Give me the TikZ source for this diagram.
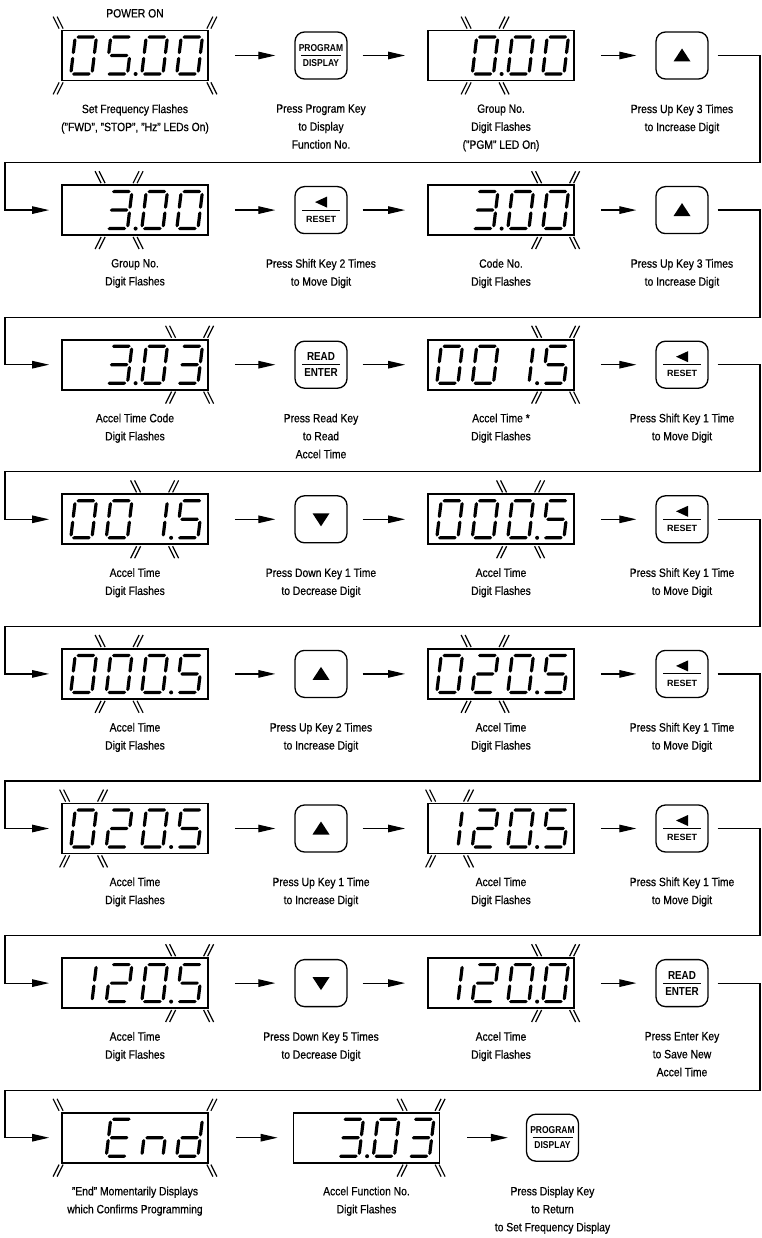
\documentclass[tikz,border=0pt]{standalone}
\usepackage{fontspec}
\setmainfont{Liberation Sans}[FakeStretch=0.86,FakeBold=0.6]
\newfontfamily\keyfont{Liberation Sans}[FakeStretch=0.85]
\newfontfamily\keyfontw{Liberation Sans}
\usetikzlibrary{arrows.meta}
\tikzset{
  dbox/.style={draw, line width=1.8pt, minimum width=146pt, minimum height=50pt, inner sep=0pt},
  kbox/.style={draw, line width=1.3pt, rounded corners=9.5pt, minimum width=52pt, minimum height=47pt, inner sep=0pt},
  lbl/.style={align=center, anchor=north, inner sep=0pt, font=\fontsize{12}{18}\selectfont},
  arw/.style={line width=1.2pt, -{Triangle[length=17pt,width=7.5pt]}},
  fl/.style={line width=1.2pt},
  kl/.style={line width=0.9pt},
  ktA/.style={inner sep=0pt, font=\keyfont\bfseries\fontsize{10}{10}\selectfont},
  ktB/.style={inner sep=0pt, font=\keyfont\bfseries\fontsize{11.6}{12}\selectfont},
  ktC/.style={inner sep=0pt, font=\keyfontw\bfseries\fontsize{9}{9}\selectfont},
  pics/bsl/.style={code={\draw[fl] (-5,6)--(1,-6); \draw[fl] (-1,6)--(5,-6);}},
  pics/fsl/.style={code={\draw[fl] (-5,-6)--(1,6); \draw[fl] (-1,-6)--(5,6);}},
}
% hexagonal segments
\newcommand\hs[3]{\fill (#1,#3) -- (#1+1.6,#3+1.6) -- (#2-1.6,#3+1.6) -- (#2,#3) -- (#2-1.6,#3-1.6) -- (#1+1.6,#3-1.6) -- cycle;}
\newcommand\vs[3]{\fill (#1,#2) -- (#1+1.6,#2-1.6) -- (#1+1.6,#3+1.6) -- (#1,#3) -- (#1-1.6,#3+1.6) -- (#1-1.6,#2-1.6) -- cycle;}
\pgfkeys{
 /segs/.cd,
 a/.code={\hs{-9.3}{9.3}{18.5}},
 d/.code={\hs{-9.3}{9.3}{-18.5}},
 g/.code={\hs{-9.3}{9.3}{0}},
 b/.code={\vs{10.6}{17.2}{1.3}},
 c/.code={\vs{10.6}{-1.3}{-17.2}},
 e/.code={\vs{-10.6}{-1.3}{-17.2}},
 f/.code={\vs{-10.6}{17.2}{1.3}},
}
\pgfkeys{
 /dch/.cd,
 0/.code={\pgfkeys{/segs/.cd,a,b,c,d,e,f}},
 1/.code={\pgfkeys{/segs/.cd,b,c}},
 2/.code={\pgfkeys{/segs/.cd,a,b,g,e,d}},
 3/.code={\pgfkeys{/segs/.cd,a,b,g,c,d}},
 5/.code={\pgfkeys{/segs/.cd,a,f,g,c,d}},
 E/.code={\pgfkeys{/segs/.cd,a,f,g,e,d}},
 n/.code={\pgfkeys{/segs/.cd,c,e,g}},
 d/.code={\pgfkeys{/segs/.cd,b,c,d,e,g}},
 x/.code={},
}
\newcommand\dg[3]{\begin{scope}[shift={(#1.west)},xshift=#2pt,xslant=0.12]\pgfkeys{/dch/#3}\end{scope}}
\newcommand\disp[7]{\node[dbox] (#1) at (#2,#3) {};%
  \dg{#1}{22.5}{#4}\dg{#1}{58}{#5}\dg{#1}{93.5}{#6}\dg{#1}{128.5}{#7}}
\newcommand\dpt[2]{\fill ([xshift=#2pt,yshift=-18.5pt]#1.west) circle (2pt);}
\newcommand\fd[2]{%
  \pic at ([xshift=#2pt-19pt,yshift=7pt]#1.north west) {bsl};
  \pic at ([xshift=#2pt+19pt,yshift=7pt]#1.north west) {fsl};
  \pic at ([xshift=#2pt-19pt,yshift=-7pt]#1.south west) {fsl};
  \pic at ([xshift=#2pt+19pt,yshift=-7pt]#1.south west) {bsl};}
\newcommand\fa[1]{%
  \pic at ([xshift=-3pt,yshift=7pt]#1.north west) {bsl};
  \pic at ([xshift=3pt,yshift=7pt]#1.north east) {fsl};
  \pic at ([xshift=-3pt,yshift=-7pt]#1.south west) {fsl};
  \pic at ([xshift=3pt,yshift=-7pt]#1.south east) {bsl};}
\newcommand\kprog[3]{\node[kbox] (#1) at (#2,#3) {};
  \draw[kl] ([xshift=-20pt]#1.center) -- ([xshift=20pt]#1.center);
  \node[ktA] (#1t) at ([yshift=7.5pt]#1.center) {PROGRAM};
  \node[ktA] (#1b) at ([yshift=-7.5pt]#1.center) {DISPLAY};}
\newcommand\kread[3]{\node[kbox] (#1) at (#2,#3) {};
  \draw[kl] ([xshift=-19pt]#1.center) -- ([xshift=19pt]#1.center);
  \node[ktB] (#1t) at ([yshift=8pt]#1.center) {READ};
  \node[ktB] (#1b) at ([yshift=-8pt]#1.center) {ENTER};}
\newcommand\kreset[3]{\node[kbox] (#1) at (#2,#3) {};
  \draw[kl] ([xshift=-19pt]#1.center) -- ([xshift=19pt]#1.center);
  \fill ([shift={(-6pt,8pt)}]#1.center) -- ([shift={(6pt,13.5pt)}]#1.center) -- ([shift={(6pt,2.5pt)}]#1.center) -- cycle;
  \node[ktC] (#1b) at ([yshift=-9pt]#1.center) {RESET};}
\newcommand\kup[3]{\node[kbox] (#1) at (#2,#3) {};
  \fill ([shift={(-8.5pt,-6pt)}]#1.center) -- ([shift={(8.5pt,-6pt)}]#1.center) -- ([shift={(0pt,7pt)}]#1.center) -- cycle;}
\newcommand\kdown[3]{\node[kbox] (#1) at (#2,#3) {};
  \fill ([shift={(-8.5pt,6pt)}]#1.center) -- ([shift={(8.5pt,6pt)}]#1.center) -- ([shift={(0pt,-7pt)}]#1.center) -- cycle;}
\newcommand\dk[2]{\draw[arw, shorten <=26pt, shorten >=19pt] (#1) -- (#2);}
\newcommand\kd[2]{\draw[arw, shorten <=15pt, shorten >=22pt] (#1) -- (#2);}
\newcommand\ret[5]{% from key, row y, line y, to display, index
  \coordinate (r#5) at (760,#2); \coordinate (s#5) at (5,#3);
  \draw[arw, shorten <=9pt, shorten >=12pt] (#1) -- (r#5) |- (s#5) |- (#4);}
\begin{document}
\begin{tikzpicture}[x=1pt,y=1pt]
\useasboundingbox (0,0) rectangle (762,-1238);
% Row 1
\node[inner sep=0pt, font=\fontsize{12}{12}\selectfont] (pw) at (135,-13.3) {POWER ON};
\disp{d1}{135}{-55.5}{0}{5}{0}{0}\dpt{d1}{74.5}\fa{d1}
\kprog{k1}{321}{-55.5}
\disp{d2}{501}{-55.5}{x}{0}{0}{0}\dpt{d2}{74.5}\fd{d2}{58}
\kup{k2}{682}{-55.5}
\node[lbl] (l1) at (135,-104.2) {Set Frequency Flashes\\("FWD", "STOP", "Hz" LEDs On)};
\node[lbl] (l2) at (321,-104.2) {Press Program Key\\to Display\\Function No.};
\node[lbl] (l3) at (501,-104.2) {Group No.\\Digit Flashes\\("PGM" LED On)};
\node[lbl] (l4) at (682,-104.2) {Press Up Key 3 Times\\to Increase Digit};
\dk{d1}{k1}\kd{k1}{d2}\dk{d2}{k2}
% Row 2
\disp{d3}{135}{-210.1}{x}{3}{0}{0}\dpt{d3}{74.5}\fd{d3}{58}
\kreset{k3}{321}{-210.1}
\disp{d4}{501}{-210.1}{x}{3}{0}{0}\dpt{d4}{74.5}\fd{d4}{128.5}
\kup{k4}{682}{-210.1}
\node[lbl] (l5) at (135,-258.8) {Group No.\\Digit Flashes};
\node[lbl] (l6) at (321,-258.8) {Press Shift Key 2 Times\\to Move Digit};
\node[lbl] (l7) at (501,-258.8) {Code No.\\Digit Flashes};
\node[lbl] (l8) at (682,-258.8) {Press Up Key 3 Times\\to Increase Digit};
\ret{k2}{-55.5}{-162.6}{d3}{1}
\dk{d3}{k3}\kd{k3}{d4}\dk{d4}{k4}
% Row 3
\disp{d5}{135}{-364.7}{x}{3}{0}{3}\dpt{d5}{74.5}\fd{d5}{128.5}
\kread{k5}{321}{-364.7}
\disp{d6}{501}{-364.7}{0}{0}{1}{5}\dpt{d6}{110}\fd{d6}{128.5}
\kreset{k6}{682}{-364.7}
\node[lbl] (l9) at (135,-413.4) {Accel Time Code\\Digit Flashes};
\node[lbl] (l10) at (321,-413.4) {Press Read Key\\to Read\\Accel Time};
\node[lbl] (l11) at (501,-413.4) {Accel Time *\\Digit Flashes};
\node[lbl] (l12) at (682,-413.4) {Press Shift Key 1 Time\\to Move Digit};
\ret{k4}{-210.1}{-317.2}{d5}{2}
\dk{d5}{k5}\kd{k5}{d6}\dk{d6}{k6}
% Row 4
\disp{d7}{135}{-519.3}{0}{0}{1}{5}\dpt{d7}{110}\fd{d7}{93.5}
\kdown{k7}{321}{-519.3}
\disp{d8}{501}{-519.3}{0}{0}{0}{5}\dpt{d8}{110}\fd{d8}{93.5}
\kreset{k8}{682}{-519.3}
\node[lbl] (l13) at (135,-568.0) {Accel Time\\Digit Flashes};
\node[lbl] (l14) at (321,-568.0) {Press Down Key 1 Time\\to Decrease Digit};
\node[lbl] (l15) at (501,-568.0) {Accel Time\\Digit Flashes};
\node[lbl] (l16) at (682,-568.0) {Press Shift Key 1 Time\\to Move Digit};
\ret{k6}{-364.7}{-471.8}{d7}{3}
\dk{d7}{k7}\kd{k7}{d8}\dk{d8}{k8}
% Row 5
\disp{d9}{135}{-673.9}{0}{0}{0}{5}\dpt{d9}{110}\fd{d9}{58}
\kup{k9}{321}{-673.9}
\disp{d10}{501}{-673.9}{0}{2}{0}{5}\dpt{d10}{110}\fd{d10}{58}
\kreset{k10}{682}{-673.9}
\node[lbl] (l17) at (135,-722.6) {Accel Time\\Digit Flashes};
\node[lbl] (l18) at (321,-722.6) {Press Up Key 2 Times\\to Increase Digit};
\node[lbl] (l19) at (501,-722.6) {Accel Time\\Digit Flashes};
\node[lbl] (l20) at (682,-722.6) {Press Shift Key 1 Time\\to Move Digit};
\ret{k8}{-519.3}{-626.4}{d9}{4}
\dk{d9}{k9}\kd{k9}{d10}\dk{d10}{k10}
% Row 6
\disp{d11}{135}{-828.5}{0}{2}{0}{5}\dpt{d11}{110}\fd{d11}{22.5}
\kup{k11}{321}{-828.5}
\disp{d12}{501}{-828.5}{1}{2}{0}{5}\dpt{d12}{110}\fd{d12}{22.5}
\kreset{k12}{682}{-828.5}
\node[lbl] (l21) at (135,-877.2) {Accel Time\\Digit Flashes};
\node[lbl] (l22) at (321,-877.2) {Press Up Key 1 Time\\to Increase Digit};
\node[lbl] (l23) at (501,-877.2) {Accel Time\\Digit Flashes};
\node[lbl] (l24) at (682,-877.2) {Press Shift Key 1 Time\\to Move Digit};
\ret{k10}{-673.9}{-781.0}{d11}{5}
\dk{d11}{k11}\kd{k11}{d12}\dk{d12}{k12}
% Row 7
\disp{d13}{135}{-983.1}{1}{2}{0}{5}\dpt{d13}{110}\fd{d13}{128.5}
\kdown{k13}{321}{-983.1}
\disp{d14}{501}{-983.1}{1}{2}{0}{0}\dpt{d14}{110}\fd{d14}{128.5}
\kread{k14}{682}{-983.1}
\node[lbl] (l25) at (135,-1031.8) {Accel Time\\Digit Flashes};
\node[lbl] (l26) at (321,-1031.8) {Press Down Key 5 Times\\to Decrease Digit};
\node[lbl] (l27) at (501,-1031.8) {Accel Time\\Digit Flashes};
\node[lbl] (l28) at (682,-1031.8) {Press Enter Key\\to Save New\\Accel Time};
\ret{k12}{-828.5}{-935.6}{d13}{6}
\dk{d13}{k13}\kd{k13}{d14}\dk{d14}{k14}
% Row 8
\disp{d15}{135}{-1137.7}{x}{E}{n}{d}\fa{d15}
\disp{d16}{366.5}{-1137.7}{x}{3}{0}{3}\dpt{d16}{74.5}\fd{d16}{128.5}
\kprog{k15}{552.5}{-1137.7}
\node[lbl] (l29) at (135,-1186.4) {"End" Momentarily Displays\\which Confirms Programming};
\node[lbl] (l30) at (366.5,-1186.4) {Accel Function No.\\Digit Flashes};
\node[lbl] (l31) at (552.5,-1186.4) {Press Display Key\\to Return\\to Set Frequency Display};
\ret{k14}{-983.1}{-1090.2}{d15}{7}
\draw[arw, shorten <=27pt, shorten >=15pt] (d15) -- (d16);
\draw[arw, shorten <=27pt, shorten >=18pt] (d16) -- (k15);
\end{tikzpicture}
\end{document}
